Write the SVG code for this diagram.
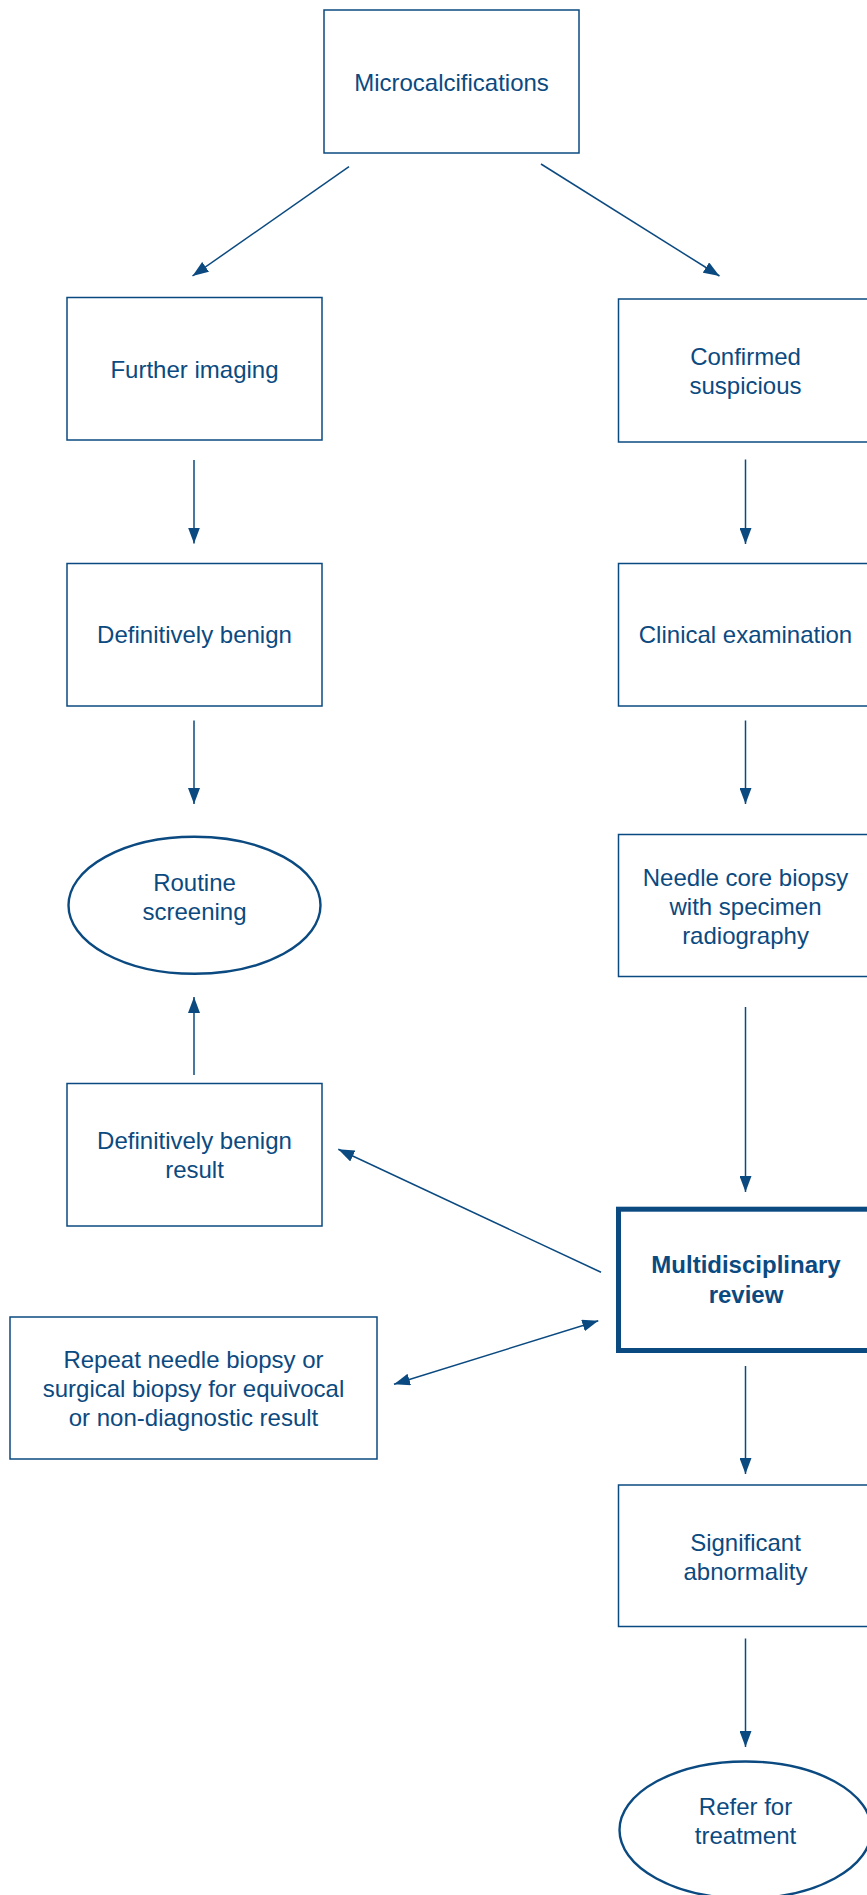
<svg xmlns="http://www.w3.org/2000/svg" width="867" height="1895" viewBox="0 0 867 1895">
  <style>
    .box { fill: #ffffff; stroke: #0b4a80; stroke-width: 1.5; }
    .box-strong { fill: #ffffff; stroke: #0b4a80; stroke-width: 5; }
    .oval { fill: #ffffff; stroke: #0b4a80; stroke-width: 2.4; }
    .label { font-family: "Liberation Sans", Arial, Helvetica, sans-serif; font-size: 24px; fill: #0b4a80; text-anchor: middle; }
    .bold { font-weight: bold; }
    .link { fill: none; stroke: #0b4a80; stroke-width: 1.5; marker-end: url(#head); }
    .both { marker-start: url(#head); }
  </style>
  <defs>
    <marker id="head" markerUnits="userSpaceOnUse" markerWidth="16" markerHeight="12" refX="16" refY="6" orient="auto-start-reverse">
      <path d="M0,0 L16,6 L0,12 z" fill="#0b4a80"/>
    </marker>
  </defs>

  <!-- connectors -->
  <g id="connectors">
    <line class="link" x1="349" y1="166.7" x2="192.5" y2="276"/>
    <line class="link" x1="541" y1="164" x2="719.5" y2="276"/>
    <line class="link" x1="194" y1="460" x2="194" y2="543.5"/>
    <line class="link" x1="194" y1="720.5" x2="194" y2="804"/>
    <line class="link" x1="194" y1="1075" x2="194" y2="997"/>
    <line class="link" x1="745.5" y1="459.5" x2="745.5" y2="544"/>
    <line class="link" x1="745.5" y1="720.5" x2="745.5" y2="804"/>
    <line class="link" x1="745.5" y1="1007" x2="745.5" y2="1192"/>
    <line class="link" x1="745.5" y1="1366" x2="745.5" y2="1474"/>
    <line class="link" x1="745.5" y1="1638.5" x2="745.5" y2="1747"/>
    <line class="link" x1="601" y1="1272.3" x2="338.3" y2="1149.3"/>
    <line class="link both" x1="394" y1="1384.3" x2="598.3" y2="1320.7"/>
  </g>

  <g id="microcalcifications">
    <rect class="box" x="324" y="10" width="255" height="143"/>
    <text class="label" x="451.5" y="90.5">Microcalcifications</text>
  </g>

  <g id="further-imaging">
    <rect class="box" x="67" y="297.5" width="255" height="142.5"/>
    <text class="label" x="194.5" y="377.5">Further imaging</text>
  </g>

  <g id="confirmed-suspicious">
    <rect class="box" x="618.5" y="299" width="255" height="143"/>
    <text class="label" x="745.5" y="364.5">Confirmed</text>
    <text class="label" x="745.5" y="393.5">suspicious</text>
  </g>

  <g id="definitively-benign">
    <rect class="box" x="67" y="563.5" width="255" height="142.5"/>
    <text class="label" x="194.5" y="643">Definitively benign</text>
  </g>

  <g id="clinical-examination">
    <rect class="box" x="618.5" y="563.5" width="255" height="142.5"/>
    <text class="label" x="745.5" y="643">Clinical examination</text>
  </g>

  <g id="routine-screening">
    <ellipse class="oval" cx="194.5" cy="905.3" rx="126" ry="68.5"/>
    <text class="label" x="194.5" y="890.7">Routine</text>
    <text class="label" x="194.5" y="919.7">screening</text>
  </g>

  <g id="needle-core-biopsy">
    <rect class="box" x="618.5" y="834.5" width="255" height="142"/>
    <text class="label" x="745.5" y="886">Needle core biopsy</text>
    <text class="label" x="745.5" y="915">with specimen</text>
    <text class="label" x="745.5" y="944">radiography</text>
  </g>

  <g id="benign-result">
    <rect class="box" x="67" y="1083.5" width="255" height="142.5"/>
    <text class="label" x="194.5" y="1149">Definitively benign</text>
    <text class="label" x="194.5" y="1178">result</text>
  </g>

  <g id="multidisciplinary-review">
    <rect class="box-strong" x="618.5" y="1209.2" width="255" height="141.3"/>
    <text class="label bold" x="746" y="1273.3">Multidisciplinary</text>
    <text class="label bold" x="746" y="1302.5">review</text>
  </g>

  <g id="repeat-biopsy">
    <rect class="box" x="10" y="1317" width="367" height="142"/>
    <text class="label" x="193.5" y="1367.5">Repeat needle biopsy or</text>
    <text class="label" x="193.5" y="1396.5">surgical biopsy for equivocal</text>
    <text class="label" x="193.5" y="1425.5">or non-diagnostic result</text>
  </g>

  <g id="significant-abnormality">
    <rect class="box" x="618.5" y="1485" width="255" height="141.5"/>
    <text class="label" x="745.5" y="1550.5">Significant</text>
    <text class="label" x="745.5" y="1579.5">abnormality</text>
  </g>

  <g id="refer-for-treatment">
    <ellipse class="oval" cx="745.5" cy="1830" rx="126" ry="68.5"/>
    <text class="label" x="745.5" y="1815">Refer for</text>
    <text class="label" x="745.5" y="1843.5">treatment</text>
  </g>
</svg>
